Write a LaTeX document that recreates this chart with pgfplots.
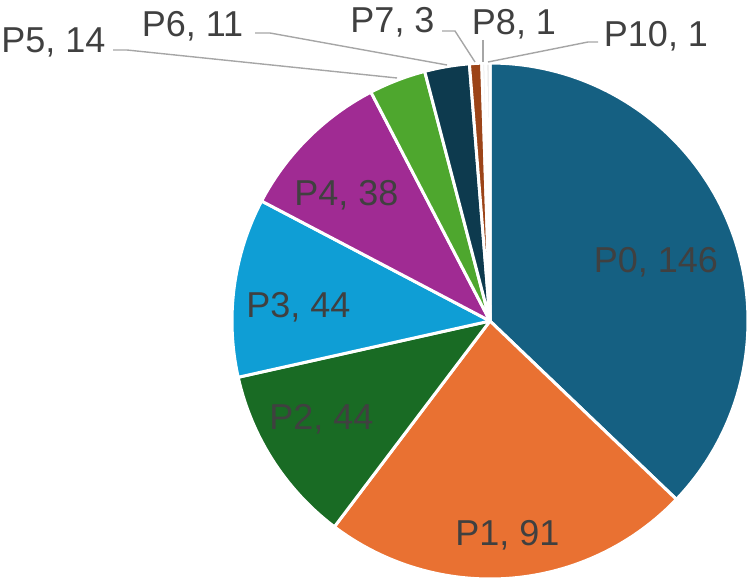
\documentclass[border=0pt]{standalone}
\usepackage{pgfplots}
\pgfplotsset{compat=1.18}
\usepackage{fontspec}
\setmainfont{Liberation Sans}
\definecolor{c0}{HTML}{156082}
\definecolor{c1}{HTML}{E97132}
\definecolor{c2}{HTML}{196B24}
\definecolor{c3}{HTML}{0F9ED5}
\definecolor{c4}{HTML}{A02B93}
\definecolor{c5}{HTML}{4EA72E}
\definecolor{c6}{HTML}{0D3A4E}
\definecolor{c7}{HTML}{9C4418}
\definecolor{c8}{HTML}{EDEDED}
\definecolor{c10}{HTML}{E4E4E4}
\definecolor{txt}{HTML}{404040}
\definecolor{lead}{HTML}{A6A6A6}
\tikzset{lbl/.style={font=\fontsize{36}{40}\selectfont, text=txt, inner sep=0pt, anchor=base}}
\begin{document}
\begin{tikzpicture}
\begin{axis}[
  width=750pt, height=578pt, scale only axis,
  xmin=0, xmax=750, ymin=0, ymax=578, y dir=reverse,
  hide axis, clip=false,
]
% start / value / colour  (total 393)
\foreach \s/\v/\c in {0/146/c0, 146/91/c1, 237/44/c2, 281/44/c3, 325/38/c4, 363/14/c5, 377/11/c6, 388/3/c7, 391/1/c8, 392/1/c10} {
  \pgfmathsetmacro\a{\s/393*360}
  \pgfmathsetmacro\b{(\s+\v)/393*360}
  \edef\tmp{\noexpand\addplot[fill=\c, draw=white, line width=3pt, line join=round, domain=\a:\b, samples=90] ({490+258*sin(x)}, {321-258*cos(x)}) -- (axis cs:490,321) -- cycle;}
  \tmp
}
% leader lines
\draw[lead, line width=1.4pt] (axis cs:113,50) -- (axis cs:127,50) -- (axis cs:397,78);
\draw[lead, line width=1.4pt] (axis cs:255,33) -- (axis cs:270,33) -- (axis cs:447,65);
\draw[lead, line width=1.4pt] (axis cs:442,31) -- (axis cs:455,31) -- (axis cs:475,62);
\draw[lead, line width=1.4pt] (axis cs:483,40) -- (axis cs:483,62);
\draw[lead, line width=1.4pt] (axis cs:598,42) -- (axis cs:588,42) -- (axis cs:488,62);
% labels
\node[lbl] at (axis cs:656,272) {P0, 146};
\node[lbl] at (axis cs:507.5,545) {P1, 91};
\node[lbl] at (axis cs:321.5,429) {P2, 44};
\node[lbl] at (axis cs:298.5,317) {P3, 44};
\node[lbl] at (axis cs:346.5,205) {P4, 38};
\node[lbl] at (axis cs:53.5,53) {P5, 14};
\node[lbl] at (axis cs:192.5,37) {P6, 11};
\node[lbl] at (axis cs:392.5,33) {P7, 3};
\node[lbl] at (axis cs:514,35) {P8, 1};
\node[lbl] at (axis cs:656,47) {P10, 1};
\end{axis}
\pgfresetboundingbox
\path (0,0) rectangle (750pt,578pt);
\end{tikzpicture}
\end{document}
